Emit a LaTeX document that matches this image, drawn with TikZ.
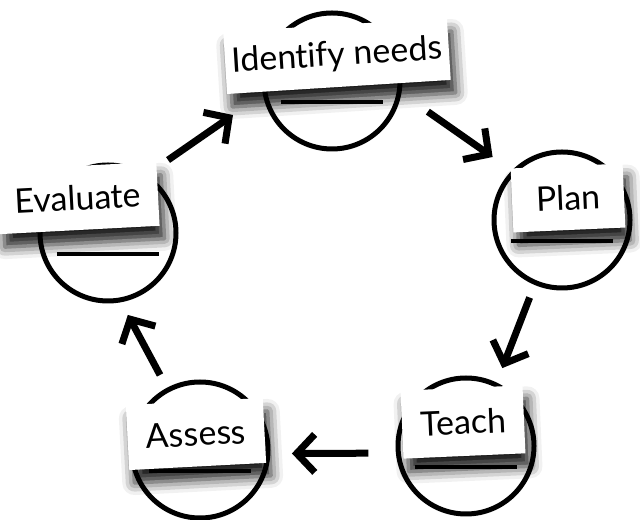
\documentclass[tikz,border=0pt]{standalone}
\usepackage{fontspec}
\setmainfont{Lato}[Ligatures=NoCommon]
\usetikzlibrary{calc, arrows.meta, shadows.blur}

\begin{document}
\begin{tikzpicture}[%
  x = 1bp, y = 1bp,
  stage/.style = {circle, draw, line width=5bp, minimum size=136bp,
                  inner sep=0pt, outer sep=0pt},
  tag/.style   = {rectangle, fill=white, inner sep=0pt, align=center,
                  font=\fontsize{34}{38}\selectfont,
                  blur shadow={shadow xshift=5bp, shadow yshift=-13bp,
                               shadow blur radius=12bp, shadow opacity=90}},
  blank/.style = {line width=3.5bp},
  flow/.style  = {line width=7bp, -{Straight Barb[length=18bp, width=38bp]}}
]
  \useasboundingbox (0,0) rectangle (640,520);

  % stages
  \node[stage] (idc) at (332, 439) {};
  \node[stage] (plc) at (562, 300) {};
  \node[stage] (tec) at (466, 74)  {};
  \node[stage] (asc) at (200, 70)  {};
  \node[stage] (evc) at (108, 287) {};

  % labels
  \node[tag, minimum width=224bp, minimum height=62bp, rotate=3.6]
    (id) at (337, 464) {Identify needs};
  \node[tag, minimum width=112bp, minimum height=64bp, rotate=2.5]
    (pl) at (568, 322) {Plan};
  \node[tag, minimum width=122bp, minimum height=68bp, rotate=2.5]
    (te) at (463, 98)  {Teach};
  \node[tag, minimum width=137bp, minimum height=65bp, rotate=3]
    (as) at (196, 86)  {Assess};
  \node[tag, minimum width=160bp, minimum height=64bp, rotate=3]
    (ev) at (78, 322)  {Evaluate};

  % blanks
  \foreach \c in {idc, plc, tec, asc, evc}
    \draw[blank] ($(\c)+(-51,-21)$) -- ++(102,0);

  % cycle
  \draw[flow, shorten <=28bp, shorten >=39bp] (evc.57)  -- (idc.190);
  \draw[flow, shorten <=35bp, shorten >=26bp] (idc.-9)  -- (plc.135);
  \draw[flow, shorten <=16bp, shorten >=18bp] (plc.247) -- (tec.64);
  \draw[flow, shorten <=30bp, shorten >=24bp] (tec.186) -- (asc.-3);
  \draw[flow, shorten <=17bp, shorten >=17bp] (asc.118) -- (evc.280);

\end{tikzpicture}
\end{document}
